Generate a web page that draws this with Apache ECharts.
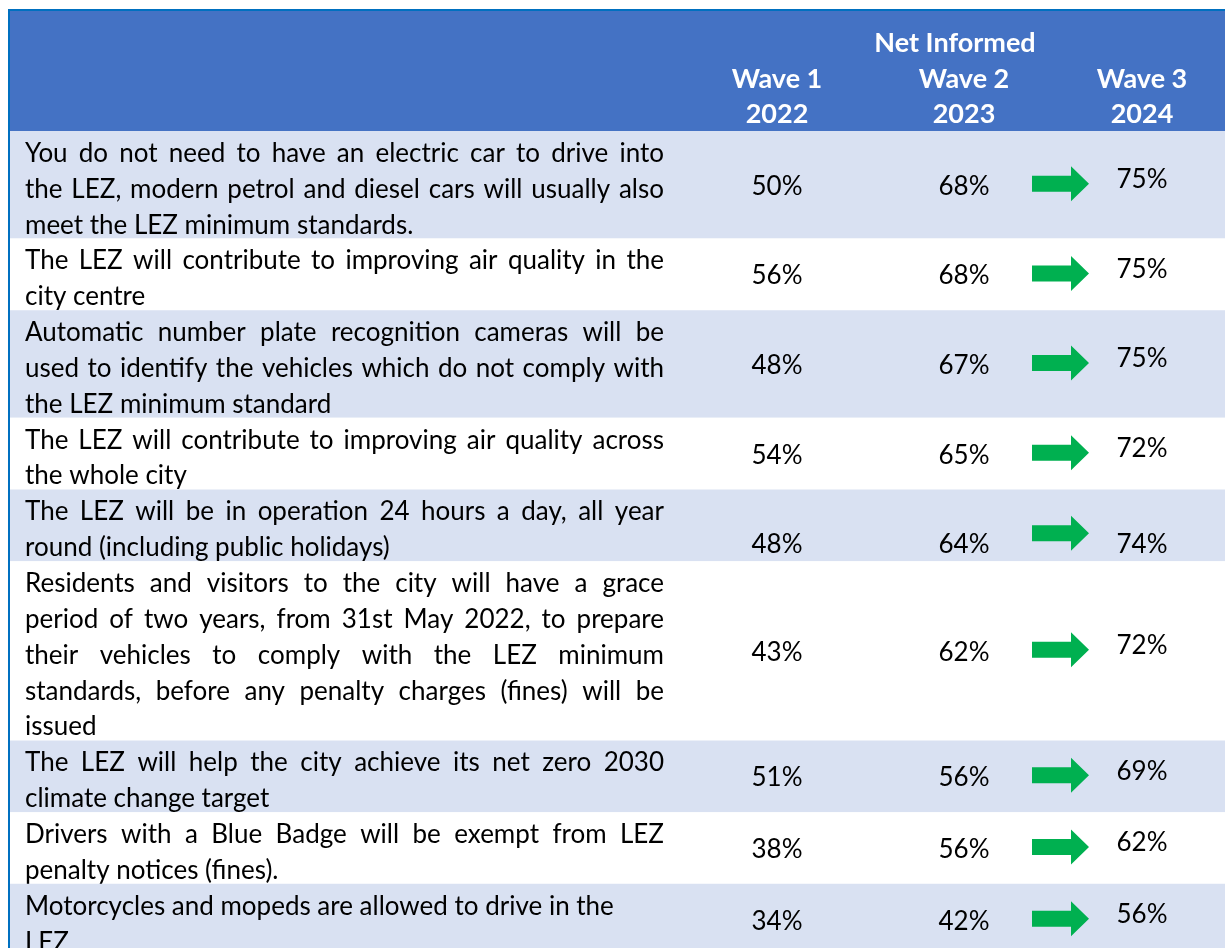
<!DOCTYPE html>
<html>
<head>
<meta charset="utf-8">
<script src="https://cdn.jsdelivr.net/npm/echarts@6/dist/echarts.min.js"></script>
<style>
html, body { margin: 0; padding: 0; background: #fff; }
#chart { width: 1225px; height: 948px; }
</style>
</head>
<body>
<div id="chart"></div>
<script>
// statements, split into the lines they take in the table
var statements = [
	['You do not need to have an electric car to drive into', 'the LEZ, modern petrol and diesel cars will usually also', 'meet the LEZ minimum standards.'],
	['The LEZ will contribute to improving air quality in the', 'city centre'],
	['Automatic number plate recognition cameras will be', 'used to identify the vehicles which do not comply with', 'the LEZ minimum standard'],
	['The LEZ will contribute to improving air quality across', 'the whole city'],
	['The LEZ will be in operation 24 hours a day, all year', 'round (including public holidays)'],
	['Residents and visitors to the city will have a grace', 'period of two years, from 31st May 2022, to prepare', 'their vehicles to comply with the LEZ minimum', 'standards, before any penalty charges (fines) will be', 'issued'],
	['The LEZ will help the city achieve its net zero 2030', 'climate change target'],
	['Drivers with a Blue Badge will be exempt from LEZ', 'penalty notices (fines).'],
	['Motorcycles and mopeds are allowed to drive in the', 'LEZ']
];
var wave1 = [50, 56, 48, 54, 48, 43, 51, 38, 34];
var wave2 = [68, 68, 67, 65, 64, 62, 56, 56, 42];
var wave3 = [75, 75, 75, 72, 74, 72, 69, 62, 56];
var waveNames = ['Wave 1', 'Wave 2', 'Wave 3'];
var waveYears = ['2022', '2023', '2024'];
var groupTitle = 'Net Informed';

// layout
var lineH = 35.85;
var tableLeft = 9, tableRight = 1225;
var headTop = 10, headBottom = 131;
var textLeft = 25, textRight = 664;
var colX = [777, 964, 1142];
var arrowLeft = 1032;
var leftAlignedRows = [8];
var bottomAlignedRows = [4];
var FONT = 'Lato, "Noto Sans", sans-serif';

var ctx = document.createElement('canvas').getContext('2d');
ctx.font = '100px ' + FONT;
var fontSize = 100 * 620 / ctx.measureText(statements[8][0]).width;
fontSize = Math.max(22, Math.min(26, fontSize));
ctx.font = fontSize + 'px ' + FONT;

var rowTops = [];
var acc = headBottom;
statements.forEach(function (s) {
	rowTops.push(acc);
	acc += s.length * lineH;
});

function txt(x, y, s, align, extra) {
	var st = {
		x: x, y: y, text: s,
		font: fontSize + 'px ' + FONT,
		fill: '#000',
		align: align || 'left',
		verticalAlign: 'middle'
	};
	if (extra) for (var k in extra) st[k] = extra[k];
	return { type: 'text', style: st };
}

function renderRow(params, api) {
	var i = api.value(0);
	var lines = statements[i];
	var top = rowTops[i];
	var bottom = top + lines.length * lineH;
	var p0 = api.coord([tableLeft, top]);
	var p1 = api.coord([tableRight, bottom]);
	var children = [{
		type: 'rect',
		shape: { x: p0[0], y: p0[1], width: p1[0] - p0[0], height: p1[1] - p0[1] },
		style: { fill: i % 2 === 0 ? '#d9e1f2' : '#ffffff' }
	}];

	lines.forEach(function (line, k) {
		var y = api.coord([0, top + (k + 0.5) * lineH + 4.5])[1];
		var justify = k < lines.length - 1 && leftAlignedRows.indexOf(i) < 0;
		if (!justify) {
			children.push(txt(api.coord([textLeft, 0])[0], y, line));
			return;
		}
		// spread the words over the cell width (justified text)
		var words = line.split(' ');
		var widths = words.map(function (w) { return ctx.measureText(w).width; });
		var total = widths.reduce(function (a, b) { return a + b; }, 0);
		var gap = (textRight - textLeft - total) / (words.length - 1);
		var x = textLeft;
		words.forEach(function (w, j) {
			children.push(txt(api.coord([x, 0])[0], y, w));
			x += widths[j] + gap;
		});
	});

	var mid = (top + bottom) / 2;
	var valY = mid + 1.5, w3Y = mid - 5, arrowY = mid - 1;
	if (bottomAlignedRows.indexOf(i) >= 0) {
		valY = bottom - 17; w3Y = bottom - 17; arrowY = bottom - 28;
	}
	[api.value(1), api.value(2)].forEach(function (v, c) {
		children.push(txt(api.coord([colX[c], 0])[0], api.coord([0, valY])[1], v + '%', 'center'));
	});
	children.push(txt(api.coord([colX[2], 0])[0], api.coord([0, w3Y])[1], api.value(3) + '%', 'center'));

	// green arrow
	var a = api.coord([arrowLeft, arrowY]);
	children.push({
		type: 'polygon',
		shape: {
			points: [
				[a[0], a[1] - 8], [a[0] + 39, a[1] - 8], [a[0] + 39, a[1] - 17.5],
				[a[0] + 57, a[1]], [a[0] + 39, a[1] + 17.5], [a[0] + 39, a[1] + 8], [a[0], a[1] + 8]
			]
		},
		style: { fill: '#00b050' }
	});

	return { type: 'group', children: children };
}

var headFont = 'bold ' + (fontSize + 1) + 'px ' + FONT;
var header = [
	{ type: 'rect', shape: { x: tableLeft, y: headTop, width: tableRight - tableLeft, height: headBottom - headTop }, style: { fill: '#4472c4' }, z: 0 },
	{ type: 'text', style: { x: 955, y: 43, text: groupTitle, font: headFont, fill: '#fff', align: 'center', verticalAlign: 'middle' }, z: 1 }
];
waveNames.forEach(function (w, c) {
	header.push({ type: 'text', style: { x: colX[c], y: 79, text: w, font: headFont, fill: '#fff', align: 'center', verticalAlign: 'middle' }, z: 1 });
	header.push({ type: 'text', style: { x: colX[c], y: 114, text: waveYears[c], font: headFont, fill: '#fff', align: 'center', verticalAlign: 'middle' }, z: 1 });
});
header.push({ type: 'line', shape: { x1: tableLeft, y1: headTop, x2: tableRight, y2: headTop }, style: { stroke: '#0070c0', lineWidth: 2 }, z: 2 });
header.push({ type: 'line', shape: { x1: tableLeft, y1: headTop - 1, x2: tableLeft, y2: 948 }, style: { stroke: '#0070c0', lineWidth: 2 }, z: 2 });

var chart = echarts.init(document.getElementById('chart'));
chart.setOption({
	animation: false,
	grid: { left: 0, right: 0, top: 0, bottom: 0 },
	xAxis: { type: 'value', min: 0, max: 1225, show: false },
	yAxis: { type: 'value', min: 0, max: 948, inverse: true, show: false },
	graphic: header,
	series: [{
		type: 'custom',
		renderItem: renderRow,
		clip: false,
		z: 1,
		data: wave1.map(function (v, i) { return [i, v, wave2[i], wave3[i]]; })
	}]
});
</script>
</body>
</html>
